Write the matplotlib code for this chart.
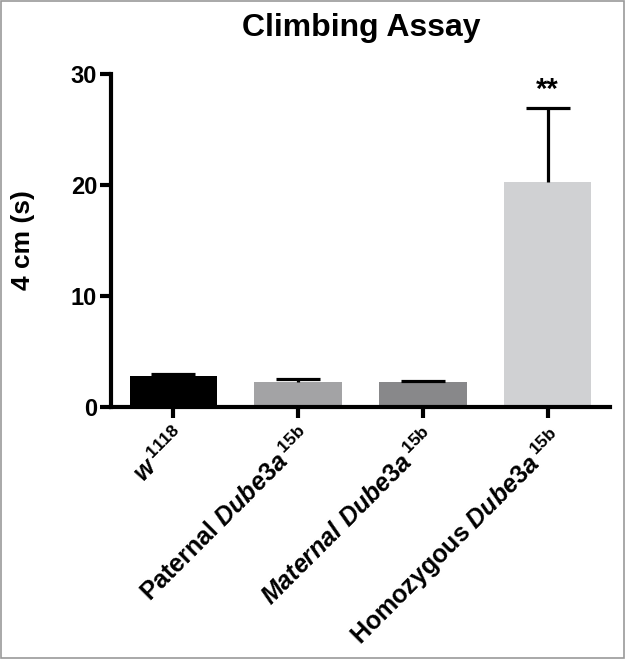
import matplotlib
matplotlib.use("Agg")
import matplotlib.pyplot as plt
from matplotlib.patches import Rectangle

plt.rcParams['font.family'] = ['Liberation Sans', 'DejaVu Sans']
plt.rcParams['font.weight'] = 'bold'
plt.rcParams['mathtext.fontset'] = 'custom'
plt.rcParams['mathtext.rm'] = 'Liberation Sans:bold'
plt.rcParams['mathtext.it'] = 'Liberation Sans:italic:bold'
plt.rcParams['mathtext.bf'] = 'Liberation Sans:bold'

# Data
categories = [r"$\mathit{w}\,^{\mathrm{1118}}$",
              r"Paternal $\mathit{Dube3a}\,^{\mathrm{15b}}$",
              r"$\mathit{Maternal\ Dube3a}\,^{\mathrm{15b}}$",
              r"Homozygous $\mathit{Dube3a}\,^{\mathrm{15b}}$"]
means = [2.8, 2.25, 2.25, 20.3]
errors = [0.2, 0.25, 0.12, 6.6]
colors = ['#000000', '#a3a3a5', '#88888a', '#d0d1d3']
yticks = [0, 10, 20, 30]
significance = ['', '', '', '**']

fig = plt.figure(figsize=(6.25, 6.59), dpi=100)
ax = fig.add_axes([0.1776, 0.3824, 0.7984, 0.5053])

x = list(range(len(means)))
ax.bar(x, means, width=0.7, color=colors, zorder=2)
eb = ax.errorbar(x, means, yerr=[[0]*len(errors), errors], fmt='none',
                 ecolor='black', elinewidth=2.3, capsize=16, capthick=2.3, zorder=3)
caplines = eb[1]
if len(caplines) == 2:
    caplines[0].set_visible(False)
for xi, m, e, s in zip(x, means, errors, significance):
    if s:
        ax.text(xi, m + e + 0.9, s, ha='center', va='baseline',
                fontsize=21, fontweight='bold', zorder=4)

ax.set_xlim(-0.5, 3.5)
ax.set_ylim(0, 30)
ax.set_yticks(yticks)
ax.set_yticklabels([str(t) for t in yticks])
ax.set_xticks(x)
ax.set_xticklabels(categories, rotation=45, ha='right', rotation_mode='anchor',
                   fontsize=18, fontweight='bold')
for lab in ax.get_yticklabels():
    lab.set_fontsize(17)
    lab.set_fontweight('bold')

for side in ['top', 'right']:
    ax.spines[side].set_visible(False)
for side in ['left', 'bottom']:
    ax.spines[side].set_linewidth(3)
    ax.spines[side].set_zorder(5)
ax.tick_params(axis='both', length=8, width=3, pad=2)
ax.tick_params(axis='x', pad=4)

ax.set_ylabel("4 cm (s)", fontsize=19, fontweight='bold')
ax.yaxis.set_label_coords(-0.152, 0.5)
fig.text(0.578, 0.958, "Climbing Assay", ha='center', va='center',
         fontsize=23, fontweight='bold')

fig.patches.append(Rectangle((0.002, 0.002), 0.996, 0.996, transform=fig.transFigure,
                             fill=False, edgecolor='#999999', linewidth=1.2))

fig.savefig("out.png", dpi=100)
